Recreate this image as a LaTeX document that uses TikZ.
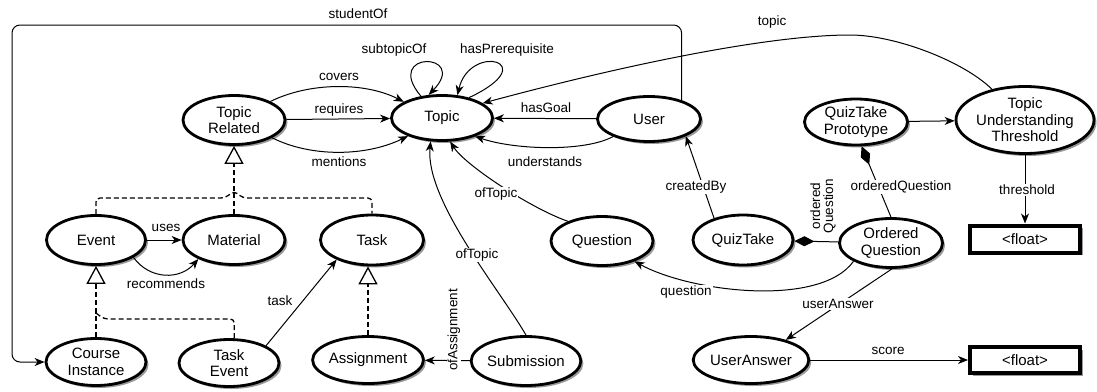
\documentclass[tikz,border=0pt]{standalone}
\usepackage{fontspec}
\setmainfont{Liberation Sans}
\usetikzlibrary{shapes.geometric,arrows.meta,shadows}
\begin{document}
\begin{tikzpicture}[x=1pt,y=-1pt,
  shd/.style={drop shadow={shadow xshift=2.5pt,shadow yshift=-2.5pt,fill=black,opacity=0.4}},
  cls/.style={ellipse,draw,line width=2.8pt,fill=white,inner sep=0pt,align=center,
    font=\fontsize{15}{16.5}\selectfont,shd},
  lit/.style={rectangle,draw,line width=4pt,fill=white,inner sep=0pt,
    minimum width=110pt,font=\fontsize{15}{16.5}\selectfont,shd},
  rel/.style={line width=1pt,-{Stealth[length=10pt,width=8pt,inset=3pt]}},
  lbl/.style={font=\fontsize{13.5}{13}\selectfont,inner sep=1pt},
  onl/.style={lbl,fill=white},
  dsh/.style={line width=1.3pt,dash pattern=on 5pt off 3pt},
  inh/.style={dsh,-{Triangle[open,length=18pt,width=19pt,line width=1.3pt]}},
  comp/.style={line width=1pt,{Diamond[length=20pt,width=10pt]}-},
]
\useasboundingbox (0,0) rectangle (1097,391);

% classes
\node[cls,minimum width=102pt,minimum height=49pt] (TR) at (234,120) {Topic\\Related};
\node[cls,minimum width=101pt,minimum height=45pt] (Topic) at (442,118) {Topic};
\node[cls,minimum width=103pt,minimum height=45pt] (User) at (649,119) {User};
\node[cls,minimum width=103pt,minimum height=46pt] (QTP) at (856,122) {QuizTake\\Prototype};
\node[cls,minimum width=135pt,minimum height=67pt] (TUT) at (1025,120) {Topic\\Understanding\\Threshold};
\node[lit,minimum height=27pt] (F1) at (1025,239) {<float>};
\node[cls,minimum width=99pt,minimum height=49pt] (Event) at (96,240) {Event};
\node[cls,minimum width=102pt,minimum height=49pt] (Material) at (234,240) {Material};
\node[cls,minimum width=103pt,minimum height=50pt] (Task) at (372,240) {Task};
\node[cls,minimum width=102pt,minimum height=49pt] (Question) at (602,241) {Question};
\node[cls,minimum width=100pt,minimum height=50pt] (QuizTake) at (743,240) {QuizTake};
\node[cls,minimum width=103pt,minimum height=49pt] (OQ) at (891,243) {Ordered\\Question};
\node[cls,minimum width=100pt,minimum height=47pt] (CI) at (96,362) {Course\\Instance};
\node[cls,minimum width=100pt,minimum height=47pt] (TE) at (229,363) {Task\\Event};
\node[cls,minimum width=105pt,minimum height=47pt] (Assignment) at (368,360) {Assignment};
\node[cls,minimum width=100pt,minimum height=49pt] (Submission) at (526,361) {Submission};
\node[cls,minimum width=103pt,minimum height=47pt] (UA) at (751,360) {UserAnswer};
\node[lit,minimum height=26pt] (F2) at (1025,360) {<float>};

% studentOf
\draw[rel,rounded corners=8pt] (User.30) |- (12,25) |- (CI.west)
  node[lbl] at (358,14) {studentOf};

% Topic self loops
\draw[rel] (Topic.134) .. controls (382,50) and (470,52) .. (Topic.120)
  node[lbl] at (394,50) {subtopicOf};
\draw[rel] (Topic.37) .. controls (545,62) and (470,42) .. (Topic.56)
  node[lbl] at (507,50) {hasPrerequisite};

% TopicRelated -> Topic
\draw[rel] (TR.27) .. controls (310,82) and (365,82) .. (Topic.157)
  node[lbl] at (339,77) {covers};
\draw[rel] (TR) -- (Topic) node[lbl] at (339,110) {requires};
\draw[rel] (TR.-25) .. controls (310,157) and (365,157) .. (Topic.-152)
  node[lbl] at (339,162) {mentions};

% User -> Topic
\draw[rel] (User) -- (Topic) node[lbl] at (546,108) {hasGoal};
\draw[rel] (User.-154) .. controls (585,152) and (515,150) .. (Topic.-29)
  node[lbl] at (545,162) {understands};

% topic
\draw[rel] (TUT.137) .. controls (963,61) and (895,35) .. (850,35)
  .. controls (770,35) and (628,64) .. (Topic.20)
  node[lbl] at (772,22) {topic};

% QuizTake Prototype
\draw[rel] (QTP) -- (TUT);
\draw[rel] (TUT) -- (F1) node[onl] at (1027,190) {threshold};
\draw[comp] (QTP.-77) -- (OQ.north) node[onl] at (901,187) {orderedQuestion};

% QuizTake
\draw[comp] (QuizTake) -- (OQ)
  node[lbl,rotate=90,align=center] at (823,206) {ordered\\Question};
\draw[rel] (QuizTake.143) -- (User.-25) node[onl] at (696,187) {createdBy};

% Ordered Question
\draw[rel] (OQ.-154) .. controls (820,308) and (690,292) .. (Question.-32)
  node[onl] at (686,292) {question};
\draw[rel] (OQ.-88) -- (UA.30) node[onl] at (838,304) {userAnswer};
\draw[rel] (UA) -- (F2) node[lbl] at (888,351) {score};

% ofTopic
\draw[rel] (Question.150) .. controls (530,208) and (465,165) .. (Topic.-71)
  node[onl] at (496,194) {ofTopic};
\draw[rel] (Submission.north) .. controls (500,290) and (425,200) .. (Topic.-116)
  node[onl] at (477,255) {ofTopic};
\draw[rel] (Submission) -- (Assignment)
  node[onl,rotate=90] at (454,330) {ofAssignment};

% Event / Material / Task
\draw[rel] (Event) -- (Material) node[lbl] at (166,228) {uses};
\draw[rel] (Event.-25) .. controls (150,280) and (180,280) .. (Material.-152)
  node[lbl] at (166,284) {recommends};
\draw[rel] (TE.25) -- (Task.-151) node[lbl] at (280,301) {task};

% inheritance
\coordinate (J1) at (234,191);
\draw[dsh,rounded corners=4pt] (Event.north) |- (225,198) -- (J1) -- (243,198) -| (Task.north);
\draw[dsh] (Material.north) -- (J1);
\draw[inh] (J1) -- (TR.south);
\coordinate (J2) at (96,313);
\draw[dsh,rounded corners=4pt] (TE.78) |- (104,319) -- (J2);
\draw[dsh] (CI.north) -- (J2);
\draw[inh] (J2) -- (Event.south);
\draw[inh] (Assignment.north) -- (Assignment.north |- Task.south);
\end{tikzpicture}
\end{document}
